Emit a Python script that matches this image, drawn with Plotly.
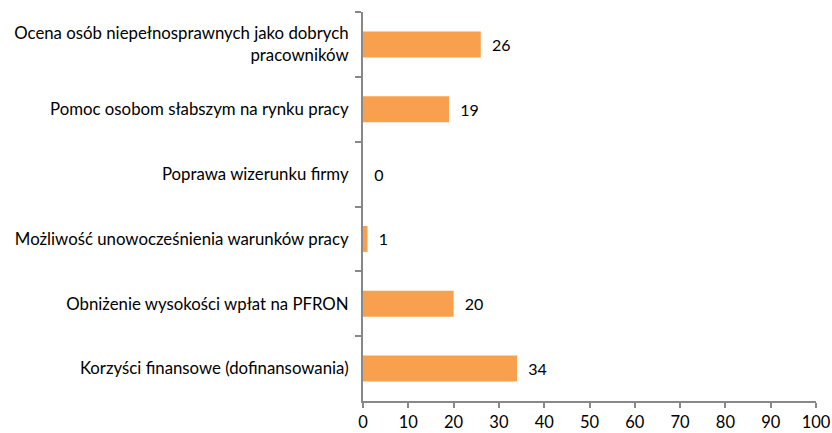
import plotly.graph_objects as go

categories = [
    "Ocena osób niepełnosprawnych jako dobrych<br>pracowników",
    "Pomoc osobom słabszym na rynku pracy",
    "Poprawa wizerunku firmy",
    "Możliwość unowocześnienia warunków pracy",
    "Obniżenie wysokości wpłat na PFRON",
    "Korzyści finansowe (dofinansowania)",
]
values = [26, 19, 0, 1, 20, 34]
x_ticks = [0, 10, 20, 30, 40, 50, 60, 70, 80, 90, 100]

font_family = "Lato, 'Open Sans', sans-serif"

fig = go.Figure(go.Bar(
    y=categories,
    x=values,
    orientation="h",
    marker=dict(color="#F9A04E", line=dict(width=0)),
    text=values,
    texttemplate="  %{x}",
    textposition="outside",
    textfont=dict(size=16, color="#000000", family=font_family),
    cliponaxis=False,
    hoverinfo="skip",
))

fig.update_layout(
    width=832, height=433,
    margin=dict(l=363, r=16, t=12, b=32),
    plot_bgcolor="white", paper_bgcolor="white",
    bargap=0.6,
    showlegend=False,
    font=dict(family=font_family, size=16, color="#000000"),
)
fig.update_yaxes(
    autorange="reversed",
    automargin=False,
    showline=True, linecolor="#888888", linewidth=2,
    ticks="outside", ticklen=6, tickcolor="#888888", tickwidth=2,
    tickson="boundaries",
    showgrid=False,
    ticklabelstandoff=9,
    tickfont=dict(size=16.8, family=font_family),
)
fig.update_xaxes(
    range=[0, 100],
    automargin=False,
    tickvals=x_ticks,
    showline=True, linecolor="#888888", linewidth=2,
    ticks="outside", ticklen=5, tickcolor="#888888", tickwidth=2,
    showgrid=False, zeroline=False,
    tickfont=dict(size=16.5, family=font_family),
)

fig.write_html(
    "out.html",
    config={"displayModeBar": False},
    post_script="document.body.style.margin='0';document.body.style.overflow='hidden';",
)
